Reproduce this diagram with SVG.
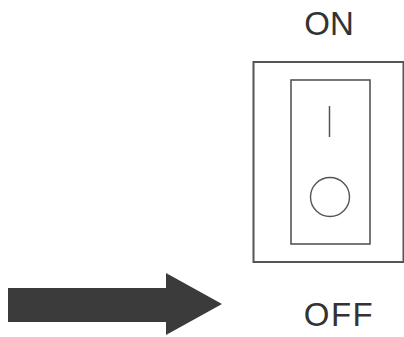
<svg xmlns="http://www.w3.org/2000/svg" width="404" height="337" viewBox="0 0 404 337">
<style>
.lbl{font-family:"Liberation Sans",Arial,sans-serif;font-size:33px;fill:#333;text-anchor:middle}
.ln{fill:none;stroke:#555}
</style>
<rect width="404" height="337" fill="#fff"/>
<g id="switch">
<rect class="ln" x="253.5" y="62" width="150" height="200" stroke-width="2"/>
<rect class="ln" x="291" y="80" width="79" height="164" stroke-width="1.6"/>
<line class="ln" x1="329.5" y1="106" x2="329.5" y2="137" stroke-width="1.5"/>
<circle class="ln" cx="330" cy="197" r="19.5" stroke-width="1.4"/>
</g>
<g id="label-on"><text class="lbl" x="329" y="35">ON</text></g>
<g id="label-off"><text class="lbl" x="339" y="326" style="letter-spacing:1.5px">OFF</text></g>
<g id="connectors">
<polygon points="8,288 166,288 166,273 222,304 166,335 166,322 8,322" fill="#3b3b3b"/>
</g>
</svg>
